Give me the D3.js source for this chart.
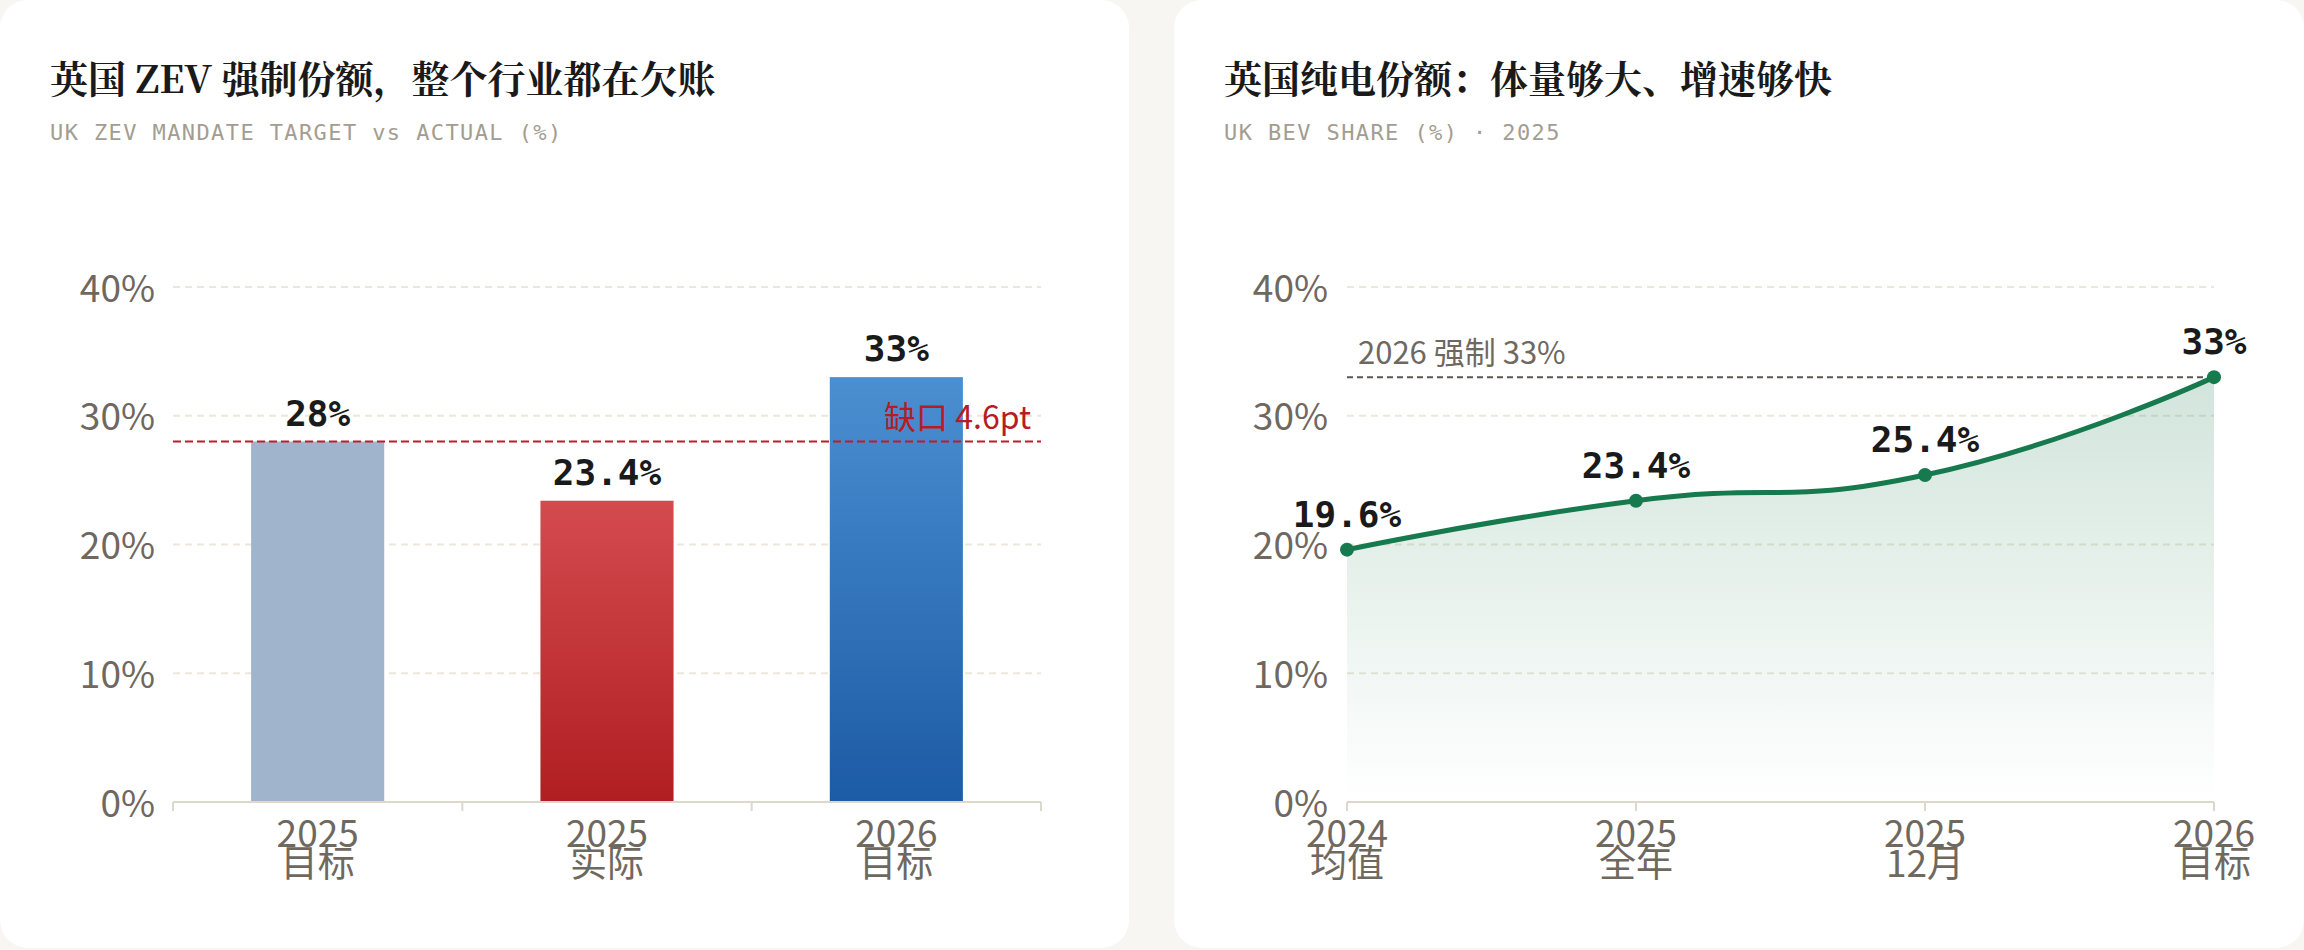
<!DOCTYPE html>
<html lang="zh">
<head>
  <meta charset="UTF-8">
  <script src="https://d3js.org/d3.v7.min.js" charset="utf-8"></script>
  <title>UK ZEV</title>
  <style>
    body { margin: 0; background: #f7f6f2; }
  </style>
</head>
<body>
  <script>
    // ---- data ----
    var barCats = [["2025", "目标"], ["2025", "实际"], ["2026", "目标"]];
    var barValues = [28, 23.4, 33];
    var barLabels = ["28%", "23.4%", "33%"];
    var targetValue = 28;
    var gapLabel = "缺口 4.6pt";

    var lineCats = [["2024", "均值"], ["2025", "全年"], ["2025", "12月"], ["2026", "目标"]];
    var lineValues = [19.6, 23.4, 25.4, 33];
    var lineLabels = ["19.6%", "23.4%", "25.4%", "33%"];
    var mandateValue = 33;
    var mandateLabel = "2026 强制 33%";

    var yTicks = [0, 10, 20, 30, 40];

    var titles = ["英国 ZEV 强制份额，整个行业都在欠账", "英国纯电份额：体量够大、增速够快"];
    var subtitles = ["UK ZEV MANDATE TARGET vs ACTUAL (%)", "UK BEV SHARE (%) · 2025"];

    // ---- layout ----
    var W = 2304, H = 950;
    var sans = "'Noto Sans CJK SC', 'Noto Sans', sans-serif";
    var serif = "'Noto Serif CJK SC', 'Noto Sans CJK SC', serif";
    var mono = "'DejaVu Sans Mono', 'Liberation Mono', monospace";
    var grey = "#6f685f";

    var svg = d3.select("body").append("svg")
      .attr("width", W).attr("height", H);

    var defs = svg.append("defs");
    function vGrad(id, top, bottom, y1, y2, o1, o2) {
      var g = defs.append("linearGradient").attr("id", id)
        .attr("x1", 0).attr("x2", 0).attr("y1", y1 || 0).attr("y2", y2 || 1);
      if (y1 !== undefined) g.attr("gradientUnits", "userSpaceOnUse");
      g.append("stop").attr("offset", 0).attr("stop-color", top).attr("stop-opacity", o1 === undefined ? 1 : o1);
      g.append("stop").attr("offset", 1).attr("stop-color", bottom).attr("stop-opacity", o2 === undefined ? 1 : o2);
    }
    vGrad("gRed", "#d44b4f", "#b01e21");
    vGrad("gBlue", "#4b8fd1", "#1c5ba5");
    vGrad("gArea", "#1a7a4c", "#1a7a4c", 376, 802, 0.2, 0.0);
    var barFills = ["#a0b4cb", "url(#gRed)", "url(#gBlue)"];

    var cards = [{ x: 0, w: 1129 }, { x: 1174, w: 1130 }];
    cards.forEach(function (c, i) {
      svg.append("rect").attr("x", c.x).attr("y", 0).attr("width", c.w).attr("height", 948)
        .attr("rx", 28).attr("fill", "#fff");
      svg.append("text").attr("x", c.x + 50).attr("y", 93)
        .attr("font-family", serif).attr("font-weight", 700).attr("font-size", 38)
        .attr("fill", "#1a1a1a").text(titles[i]);
      svg.append("text").attr("x", c.x + 50).attr("y", 140)
        .attr("font-family", mono).attr("font-size", 22).attr("letter-spacing", 1.4)
        .attr("fill", "#a39d91").text(subtitles[i]);
    });

    var y = d3.scaleLinear().domain([0, 40]).range([802, 287]);

    function yAxis(x0, x1, labelX) {
      var g = svg.append("g");
      g.selectAll("line.grid").data(yTicks.filter(function (d) { return d > 0; }))
        .enter().append("line")
        .attr("x1", x0).attr("x2", x1)
        .attr("y1", function (d) { return y(d); }).attr("y2", function (d) { return y(d); })
        .attr("stroke", "#ece7da").attr("stroke-width", 2).attr("stroke-dasharray", "7,5");
      var ax = svg.append("g").attr("transform", "translate(" + labelX + ",0)")
        .call(d3.axisLeft(y).tickValues(yTicks).tickSize(0).tickFormat(function (d) { return d + "%"; }));
      ax.select(".domain").remove();
      ax.selectAll("text").attr("x", 0).attr("dy", "0.38em")
        .attr("font-family", sans).attr("font-size", 37).attr("fill", grey);
    }

    function xLabels(sel, cats) {
      sel.append("text").attr("y", 847).attr("text-anchor", "middle")
        .attr("font-family", sans).attr("font-size", 37).attr("fill", grey)
        .each(function (d, i) {
          var t = d3.select(this);
          t.append("tspan").attr("x", 0).text(cats[i][0]);
          t.append("tspan").attr("x", 0).attr("dy", 30).text(cats[i][1]);
        });
    }

    // ---- left: bars ----
    var xb = d3.scaleBand().domain(d3.range(barValues.length)).range([173, 1041])
      .paddingInner(0.54).paddingOuter(0.27);
    yAxis(173, 1041, 155);

    svg.selectAll("rect.bar").data(barValues).enter().append("rect")
      .attr("class", "bar")
      .attr("x", function (d, i) { return xb(i); })
      .attr("y", function (d) { return y(d); })
      .attr("width", xb.bandwidth())
      .attr("height", function (d) { return y(0) - y(d); })
      .attr("fill", function (d, i) { return barFills[i]; });

    svg.selectAll("text.barlab").data(barValues).enter().append("text")
      .attr("x", function (d, i) { return xb(i) + xb.bandwidth() / 2; })
      .attr("y", function (d) { return y(d) - 16; })
      .attr("text-anchor", "middle")
      .attr("font-family", mono).attr("font-weight", 700).attr("font-size", 36)
      .attr("fill", "#1a1a1a")
      .text(function (d, i) { return barLabels[i]; });

    // target line
    svg.append("line").attr("x1", 173).attr("x2", 1041)
      .attr("y1", y(targetValue)).attr("y2", y(targetValue))
      .attr("stroke", "#b81f2a").attr("stroke-width", 2).attr("stroke-dasharray", "8,4");
    svg.append("text").attr("x", 1031).attr("y", y(targetValue) - 13)
      .attr("text-anchor", "end").attr("font-family", sans).attr("font-size", 32)
      .attr("fill", "#b71c24").text(gapLabel);

    // x axis (left)
    svg.append("line").attr("x1", 173).attr("x2", 1041).attr("y1", 802).attr("y2", 802)
      .attr("stroke", "#dcd8cc").attr("stroke-width", 2);
    svg.selectAll("line.btick").data(d3.range(barValues.length + 1)).enter().append("line")
      .attr("x1", function (i) { return 173 + i * xb.step(); })
      .attr("x2", function (i) { return 173 + i * xb.step(); })
      .attr("y1", 802).attr("y2", 811)
      .attr("stroke", "#dcd8cc").attr("stroke-width", 2);
    var bl = svg.selectAll("g.bl").data(barCats).enter().append("g")
      .attr("transform", function (d, i) { return "translate(" + (xb(i) + xb.bandwidth() / 2) + ",0)"; });
    xLabels(bl, barCats);

    // ---- right: line ----
    var xp = d3.scalePoint().domain(d3.range(lineValues.length)).range([1347, 2214]);
    yAxis(1347, 2214, 1328);

    var curve = d3.curveCardinal.tension(-0.5);
    svg.append("path").datum(lineValues)
      .attr("d", d3.area().curve(curve)
        .x(function (d, i) { return xp(i); })
        .y0(y(0)).y1(function (d) { return y(d); }))
      .attr("fill", "url(#gArea)");

    svg.append("line").attr("x1", 1347).attr("x2", 2214)
      .attr("y1", y(mandateValue)).attr("y2", y(mandateValue))
      .attr("stroke", "#5a5650").attr("stroke-width", 2).attr("stroke-dasharray", "6,4");
    svg.append("text").attr("x", 1358).attr("y", y(mandateValue) - 13)
      .attr("font-family", sans).attr("font-size", 31).attr("fill", grey).text(mandateLabel);

    svg.append("path").datum(lineValues)
      .attr("d", d3.line().curve(curve)
        .x(function (d, i) { return xp(i); })
        .y(function (d) { return y(d); }))
      .attr("fill", "none").attr("stroke", "#17794e").attr("stroke-width", 5);

    svg.selectAll("circle.pt").data(lineValues).enter().append("circle")
      .attr("cx", function (d, i) { return xp(i); })
      .attr("cy", function (d) { return y(d); })
      .attr("r", 7).attr("fill", "#17794e");

    svg.selectAll("text.ptlab").data(lineValues).enter().append("text")
      .attr("x", function (d, i) { return xp(i); })
      .attr("y", function (d) { return y(d) - 23; })
      .attr("text-anchor", "middle")
      .attr("font-family", mono).attr("font-weight", 700).attr("font-size", 36)
      .attr("fill", "#1a1a1a")
      .text(function (d, i) { return lineLabels[i]; });

    svg.append("line").attr("x1", 1347).attr("x2", 2214).attr("y1", 802).attr("y2", 802)
      .attr("stroke", "#dcd8cc").attr("stroke-width", 2);
    svg.selectAll("line.ltick").data(lineValues).enter().append("line")
      .attr("x1", function (d, i) { return xp(i); }).attr("x2", function (d, i) { return xp(i); })
      .attr("y1", 802).attr("y2", 811)
      .attr("stroke", "#dcd8cc").attr("stroke-width", 2);
    var ll = svg.selectAll("g.ll").data(lineCats).enter().append("g")
      .attr("transform", function (d, i) { return "translate(" + xp(i) + ",0)"; });
    xLabels(ll, lineCats);
  </script>
</body>
</html>
